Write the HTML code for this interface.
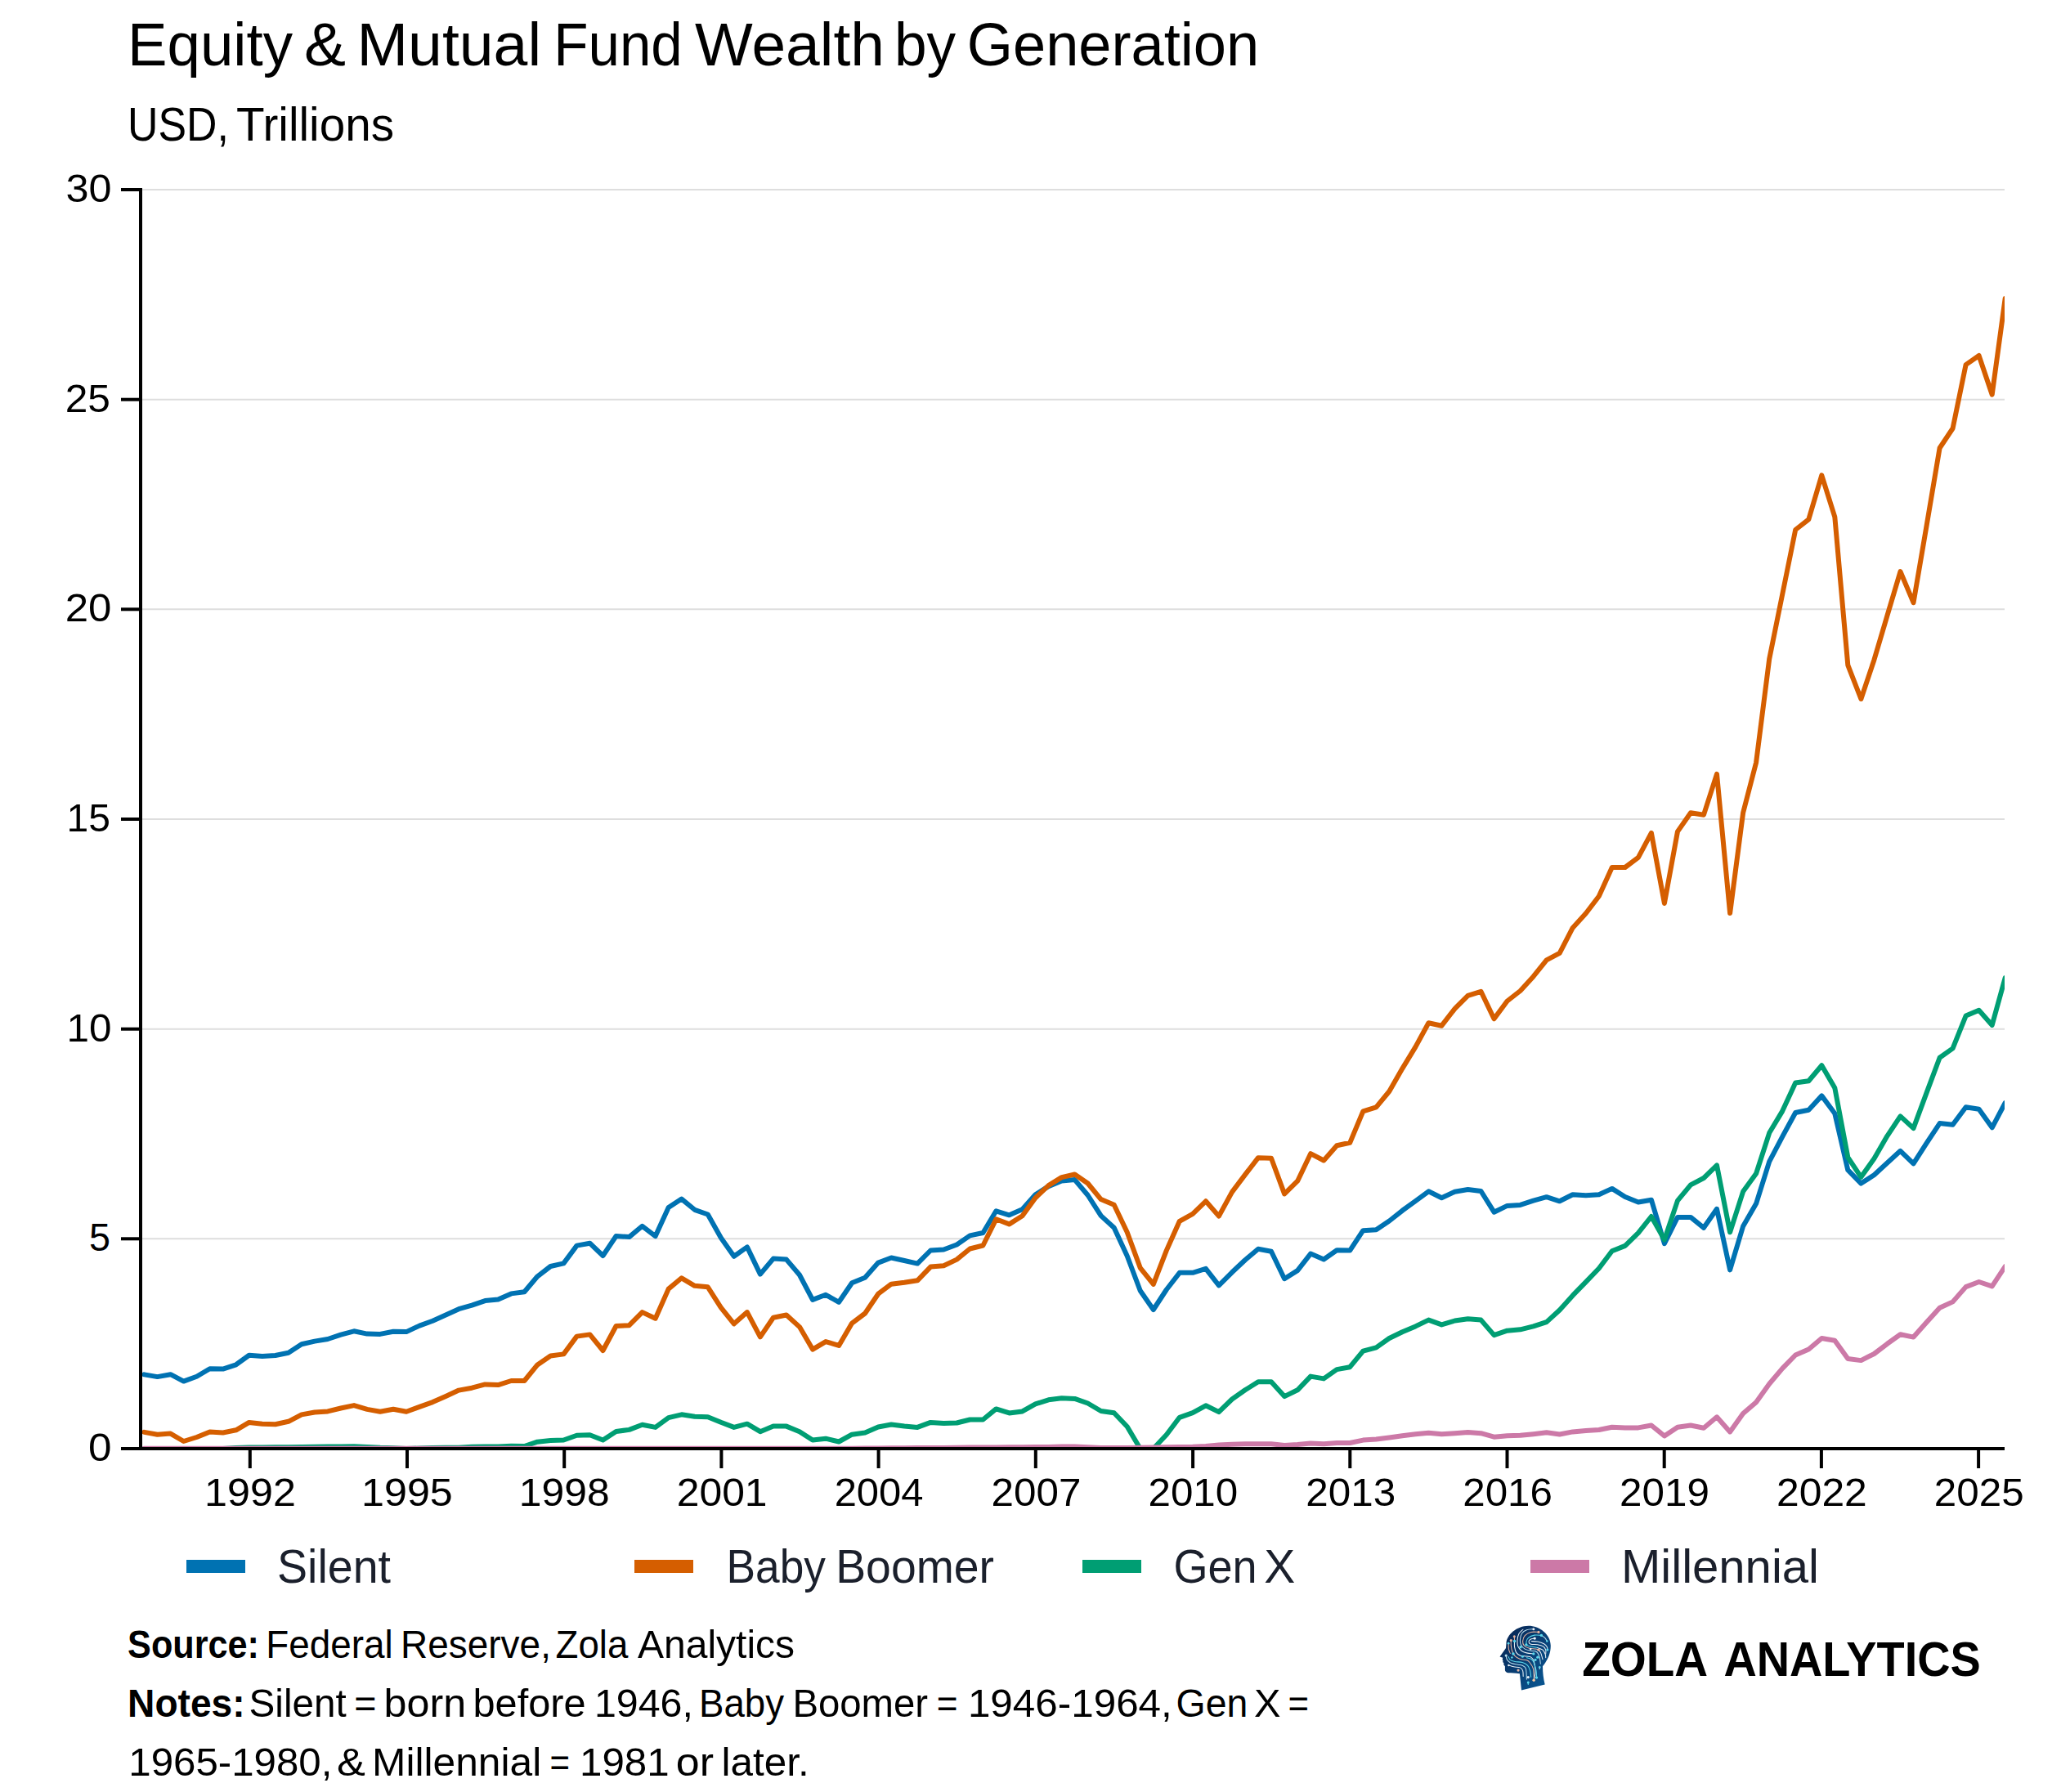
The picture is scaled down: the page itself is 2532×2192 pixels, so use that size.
<!DOCTYPE html>
<html><head><meta charset="utf-8"><style>
html,body{margin:0;padding:0;background:#fff;}
body{width:2532px;height:2192px;overflow:hidden;font-family:"Liberation Sans",sans-serif;}
svg{display:block;}
</style></head><body>
<svg width="2532" height="2192" viewBox="0 0 2532 2192" font-family="Liberation Sans">
<defs><clipPath id="pc"><rect x="174" y="150" width="2278" height="1622"/></clipPath><linearGradient id="hg" x1="0" y1="0" x2="1" y2="1"><stop offset="0" stop-color="#07204d"/><stop offset="1" stop-color="#0a5c99"/></linearGradient></defs>
<line x1="174" x2="2452" y1="1515.3" y2="1515.3" stroke="#dedede" stroke-width="2"/>
<line x1="174" x2="2452" y1="1258.7" y2="1258.7" stroke="#dedede" stroke-width="2"/>
<line x1="174" x2="2452" y1="1002.0" y2="1002.0" stroke="#dedede" stroke-width="2"/>
<line x1="174" x2="2452" y1="745.3" y2="745.3" stroke="#dedede" stroke-width="2"/>
<line x1="174" x2="2452" y1="488.7" y2="488.7" stroke="#dedede" stroke-width="2"/>
<line x1="174" x2="2452" y1="232.0" y2="232.0" stroke="#dedede" stroke-width="2"/>
<g clip-path="url(#pc)" fill="none" stroke-width="6" stroke-linejoin="round" stroke-linecap="round">
<path d="M176.5,1681.4 L192.5,1684.1 L208.6,1681.2 L224.6,1689.6 L240.6,1683.8 L256.6,1674.2 L272.7,1674.6 L288.7,1669.3 L304.7,1657.7 L320.8,1659.1 L336.8,1658.0 L352.8,1654.8 L368.9,1644.2 L384.9,1640.6 L400.9,1638.0 L416.9,1632.6 L433.0,1628.3 L449.0,1631.6 L465.0,1631.9 L481.1,1628.8 L497.1,1629.1 L513.1,1621.6 L529.2,1615.7 L545.2,1608.5 L561.2,1601.2 L577.2,1596.6 L593.3,1591.1 L609.3,1589.6 L625.3,1582.4 L641.4,1580.2 L657.4,1561.3 L673.4,1549.0 L689.4,1545.4 L705.5,1523.6 L721.5,1520.7 L737.5,1536.0 L753.6,1512.0 L769.6,1513.1 L785.6,1499.8 L801.7,1512.1 L817.7,1477.0 L833.7,1466.6 L849.7,1479.8 L865.8,1485.5 L881.8,1514.0 L897.8,1536.8 L913.9,1525.4 L929.9,1558.6 L945.9,1539.6 L961.9,1540.6 L978.0,1559.5 L994.0,1589.9 L1010.0,1583.8 L1026.1,1592.8 L1042.1,1569.3 L1058.1,1562.7 L1074.2,1544.6 L1090.2,1538.5 L1106.2,1542.0 L1122.2,1545.6 L1138.3,1529.5 L1154.3,1528.5 L1170.3,1522.5 L1186.4,1511.4 L1202.4,1508.0 L1218.4,1481.3 L1234.5,1486.3 L1250.5,1479.3 L1266.5,1461.2 L1282.5,1451.1 L1298.6,1444.5 L1314.6,1443.1 L1330.6,1462.0 L1346.7,1487.1 L1362.7,1501.7 L1378.7,1536.3 L1394.7,1578.7 L1410.8,1602.0 L1426.8,1577.5 L1442.8,1556.8 L1458.9,1556.8 L1474.9,1551.9 L1490.9,1572.4 L1507.0,1556.3 L1523.0,1541.2 L1539.0,1527.8 L1555.0,1530.7 L1571.1,1564.2 L1587.1,1554.1 L1603.1,1533.6 L1619.2,1540.5 L1635.2,1529.2 L1651.2,1529.6 L1667.3,1505.2 L1683.3,1504.2 L1699.3,1493.5 L1715.3,1480.8 L1731.4,1469.1 L1747.4,1457.3 L1763.4,1465.2 L1779.5,1457.7 L1795.5,1455.0 L1811.5,1457.0 L1827.5,1482.7 L1843.6,1474.9 L1859.6,1473.9 L1875.6,1468.7 L1891.7,1464.2 L1907.7,1469.3 L1923.7,1461.3 L1939.8,1462.2 L1955.8,1461.3 L1971.8,1453.9 L1987.8,1464.0 L2003.9,1470.5 L2019.9,1467.7 L2035.9,1521.1 L2052.0,1488.9 L2068.0,1488.9 L2084.0,1501.8 L2100.0,1478.8 L2116.1,1553.4 L2132.1,1500.0 L2148.1,1472.3 L2164.2,1420.8 L2180.2,1390.4 L2196.2,1361.0 L2212.3,1357.7 L2228.3,1340.4 L2244.3,1362.0 L2260.3,1431.2 L2276.4,1447.6 L2292.4,1437.2 L2308.4,1422.5 L2324.5,1407.8 L2340.5,1423.4 L2356.5,1398.3 L2372.6,1374.1 L2388.6,1375.8 L2404.6,1354.2 L2420.6,1356.8 L2436.7,1379.3 L2452.7,1349.0" stroke="#0072B2"/>
<path d="M176.5,1751.9 L192.5,1754.8 L208.6,1753.6 L224.6,1763.0 L240.6,1758.0 L256.6,1751.4 L272.7,1752.5 L288.7,1749.3 L304.7,1739.9 L320.8,1741.7 L336.8,1742.3 L352.8,1738.8 L368.9,1730.4 L384.9,1727.5 L400.9,1726.4 L416.9,1722.5 L433.0,1719.1 L449.0,1723.9 L465.0,1726.8 L481.1,1723.8 L497.1,1726.7 L513.1,1720.9 L529.2,1715.1 L545.2,1707.9 L561.2,1700.6 L577.2,1697.7 L593.3,1693.4 L609.3,1694.1 L625.3,1689.0 L641.4,1689.0 L657.4,1669.4 L673.4,1658.5 L689.4,1656.4 L705.5,1634.6 L721.5,1632.4 L737.5,1652.0 L753.6,1622.0 L769.6,1621.2 L785.6,1605.1 L801.7,1612.7 L817.7,1576.6 L833.7,1563.3 L849.7,1572.8 L865.8,1574.3 L881.8,1599.4 L897.8,1619.3 L913.9,1605.1 L929.9,1635.4 L945.9,1611.7 L961.9,1608.5 L978.0,1623.1 L994.0,1650.6 L1010.0,1641.1 L1026.1,1645.9 L1042.1,1618.6 L1058.1,1606.5 L1074.2,1582.7 L1090.2,1570.7 L1106.2,1568.7 L1122.2,1566.3 L1138.3,1549.6 L1154.3,1548.2 L1170.3,1540.6 L1186.4,1527.5 L1202.4,1523.5 L1218.4,1491.3 L1234.5,1497.4 L1250.5,1487.3 L1266.5,1465.2 L1282.5,1450.1 L1298.6,1440.1 L1314.6,1436.5 L1330.6,1447.5 L1346.7,1467.1 L1362.7,1473.8 L1378.7,1507.2 L1394.7,1550.8 L1410.8,1570.8 L1426.8,1529.6 L1442.8,1493.8 L1458.9,1484.9 L1474.9,1469.3 L1490.9,1487.6 L1507.0,1458.1 L1523.0,1436.9 L1539.0,1416.2 L1555.0,1416.8 L1571.1,1460.4 L1587.1,1444.7 L1603.1,1411.2 L1619.2,1419.5 L1635.2,1401.2 L1651.2,1397.8 L1667.3,1359.3 L1683.3,1354.3 L1699.3,1335.0 L1715.3,1307.1 L1731.4,1280.6 L1747.4,1251.3 L1763.4,1254.7 L1779.5,1233.8 L1795.5,1217.9 L1811.5,1212.8 L1827.5,1246.3 L1843.6,1224.5 L1859.6,1212.0 L1875.6,1194.4 L1891.7,1174.3 L1907.7,1165.8 L1923.7,1134.9 L1939.8,1117.3 L1955.8,1096.2 L1971.8,1061.0 L1987.8,1061.0 L2003.9,1048.8 L2019.9,1018.9 L2035.9,1105.0 L2052.0,1017.1 L2068.0,994.3 L2084.0,996.7 L2100.0,946.8 L2116.1,1117.0 L2132.1,994.3 L2148.1,932.7 L2164.2,806.1 L2180.2,727.0 L2196.2,648.0 L2212.3,635.4 L2228.3,581.4 L2244.3,632.3 L2260.3,813.6 L2276.4,855.0 L2292.4,807.2 L2308.4,753.2 L2324.5,699.1 L2340.5,737.2 L2356.5,643.4 L2372.6,548.0 L2388.6,524.0 L2404.6,446.1 L2420.6,435.0 L2436.7,482.7 L2452.7,365.0" stroke="#D55E00"/>
<path d="M176.5,1772.0 L192.5,1772.0 L208.6,1772.0 L224.6,1772.0 L240.6,1772.0 L256.6,1772.0 L272.7,1772.0 L288.7,1771.0 L304.7,1770.5 L320.8,1770.5 L336.8,1770.3 L352.8,1770.3 L368.9,1770.0 L384.9,1769.8 L400.9,1769.6 L416.9,1769.5 L433.0,1769.3 L449.0,1770.0 L465.0,1770.8 L481.1,1771.2 L497.1,1772.0 L513.1,1771.5 L529.2,1771.0 L545.2,1770.8 L561.2,1770.7 L577.2,1769.8 L593.3,1769.5 L609.3,1769.5 L625.3,1768.8 L641.4,1769.0 L657.4,1763.7 L673.4,1762.0 L689.4,1761.5 L705.5,1755.7 L721.5,1755.3 L737.5,1761.5 L753.6,1751.0 L769.6,1748.9 L785.6,1742.7 L801.7,1745.9 L817.7,1734.1 L833.7,1730.3 L849.7,1732.8 L865.8,1733.2 L881.8,1739.8 L897.8,1745.9 L913.9,1741.7 L929.9,1751.2 L945.9,1744.6 L961.9,1744.6 L978.0,1751.2 L994.0,1761.6 L1010.0,1759.7 L1026.1,1763.5 L1042.1,1754.7 L1058.1,1752.5 L1074.2,1745.5 L1090.2,1742.5 L1106.2,1744.5 L1122.2,1745.9 L1138.3,1739.9 L1154.3,1741.1 L1170.3,1740.5 L1186.4,1736.5 L1202.4,1736.5 L1218.4,1723.4 L1234.5,1728.4 L1250.5,1726.4 L1266.5,1717.4 L1282.5,1712.3 L1298.6,1710.3 L1314.6,1710.9 L1330.6,1716.5 L1346.7,1726.0 L1362.7,1728.2 L1378.7,1745.0 L1394.7,1772.0 L1410.8,1772.0 L1426.8,1755.0 L1442.8,1733.8 L1458.9,1728.2 L1474.9,1719.3 L1490.9,1727.1 L1507.0,1711.5 L1523.0,1700.3 L1539.0,1690.3 L1555.0,1690.3 L1571.1,1708.1 L1587.1,1700.3 L1603.1,1683.6 L1619.2,1686.4 L1635.2,1675.1 L1651.2,1672.2 L1667.3,1652.7 L1683.3,1648.4 L1699.3,1637.0 L1715.3,1629.2 L1731.4,1622.4 L1747.4,1614.6 L1763.4,1620.4 L1779.5,1615.5 L1795.5,1613.2 L1811.5,1614.6 L1827.5,1633.1 L1843.6,1627.7 L1859.6,1626.3 L1875.6,1622.4 L1891.7,1617.1 L1907.7,1602.5 L1923.7,1584.7 L1939.8,1568.1 L1955.8,1551.5 L1971.8,1530.3 L1987.8,1523.9 L2003.9,1508.2 L2019.9,1488.0 L2035.9,1516.5 L2052.0,1468.6 L2068.0,1449.3 L2084.0,1441.0 L2100.0,1425.4 L2116.1,1507.3 L2132.1,1457.6 L2148.1,1435.5 L2164.2,1385.8 L2180.2,1359.1 L2196.2,1324.5 L2212.3,1322.2 L2228.3,1303.2 L2244.3,1330.8 L2260.3,1415.6 L2276.4,1439.8 L2292.4,1417.3 L2308.4,1389.6 L2324.5,1365.4 L2340.5,1380.1 L2356.5,1336.9 L2372.6,1293.7 L2388.6,1282.4 L2404.6,1242.6 L2420.6,1235.7 L2436.7,1253.9 L2452.7,1196.0" stroke="#009E73"/>
<path d="M176.5,1771.8 L192.5,1771.8 L208.6,1771.8 L224.6,1771.8 L240.6,1771.8 L256.6,1771.8 L272.7,1771.8 L288.7,1771.8 L304.7,1771.8 L320.8,1771.8 L336.8,1771.8 L352.8,1771.8 L368.9,1771.8 L384.9,1771.8 L400.9,1771.8 L416.9,1771.8 L433.0,1771.8 L449.0,1771.8 L465.0,1771.8 L481.1,1771.8 L497.1,1771.8 L513.1,1771.8 L529.2,1771.8 L545.2,1771.8 L561.2,1771.8 L577.2,1771.8 L593.3,1771.8 L609.3,1771.8 L625.3,1771.8 L641.4,1771.8 L657.4,1771.8 L673.4,1771.8 L689.4,1771.8 L705.5,1771.8 L721.5,1771.8 L737.5,1771.8 L753.6,1771.8 L769.6,1771.8 L785.6,1771.8 L801.7,1771.8 L817.7,1771.8 L833.7,1771.8 L849.7,1771.8 L865.8,1771.8 L881.8,1771.8 L897.8,1771.8 L913.9,1771.8 L929.9,1771.8 L945.9,1771.8 L961.9,1771.8 L978.0,1771.8 L994.0,1771.8 L1010.0,1771.8 L1026.1,1771.8 L1042.1,1771.8 L1058.1,1771.5 L1074.2,1771.4 L1090.2,1771.3 L1106.2,1771.2 L1122.2,1771.1 L1138.3,1771.0 L1154.3,1770.9 L1170.3,1770.8 L1186.4,1770.6 L1202.4,1770.5 L1218.4,1770.4 L1234.5,1770.3 L1250.5,1770.2 L1266.5,1770.1 L1282.5,1770.0 L1298.6,1769.6 L1314.6,1769.6 L1330.6,1770.3 L1346.7,1771.0 L1362.7,1771.0 L1378.7,1771.0 L1394.7,1770.8 L1410.8,1770.5 L1426.8,1770.3 L1442.8,1770.0 L1458.9,1769.8 L1474.9,1769.0 L1490.9,1767.5 L1507.0,1766.8 L1523.0,1766.2 L1539.0,1766.2 L1555.0,1766.2 L1571.1,1768.0 L1587.1,1767.0 L1603.1,1765.5 L1619.2,1766.3 L1635.2,1765.0 L1651.2,1765.0 L1667.3,1761.6 L1683.3,1760.5 L1699.3,1758.5 L1715.3,1756.2 L1731.4,1754.2 L1747.4,1752.7 L1763.4,1754.2 L1779.5,1753.2 L1795.5,1751.9 L1811.5,1753.2 L1827.5,1757.7 L1843.6,1756.2 L1859.6,1755.8 L1875.6,1754.2 L1891.7,1752.3 L1907.7,1754.5 L1923.7,1751.4 L1939.8,1750.0 L1955.8,1749.0 L1971.8,1745.7 L1987.8,1746.4 L2003.9,1746.4 L2019.9,1743.5 L2035.9,1756.5 L2052.0,1745.7 L2068.0,1743.5 L2084.0,1746.7 L2100.0,1733.3 L2116.1,1751.4 L2132.1,1729.0 L2148.1,1715.2 L2164.2,1692.8 L2180.2,1673.9 L2196.2,1657.5 L2212.3,1650.5 L2228.3,1637.0 L2244.3,1639.7 L2260.3,1662.0 L2276.4,1664.1 L2292.4,1656.0 L2308.4,1643.8 L2324.5,1632.3 L2340.5,1635.6 L2356.5,1617.4 L2372.6,1599.8 L2388.6,1592.4 L2404.6,1574.1 L2420.6,1568.0 L2436.7,1573.4 L2452.7,1549.1" stroke="#CC79A7"/>
</g>
<rect x="170" y="230" width="4" height="1544" fill="#000"/>
<rect x="148" y="1770" width="2304" height="4" fill="#000"/>
<rect x="148" y="1770.0" width="26" height="4" fill="#000"/>
<rect x="148" y="1513.3" width="26" height="4" fill="#000"/>
<rect x="148" y="1256.7" width="26" height="4" fill="#000"/>
<rect x="148" y="1000.0" width="26" height="4" fill="#000"/>
<rect x="148" y="743.3" width="26" height="4" fill="#000"/>
<rect x="148" y="486.7" width="26" height="4" fill="#000"/>
<rect x="148" y="230.0" width="26" height="4" fill="#000"/>
<rect x="303.8" y="1774" width="4" height="22" fill="#000"/>
<rect x="496.0" y="1774" width="4" height="22" fill="#000"/>
<rect x="688.2" y="1774" width="4" height="22" fill="#000"/>
<rect x="880.4" y="1774" width="4" height="22" fill="#000"/>
<rect x="1072.6" y="1774" width="4" height="22" fill="#000"/>
<rect x="1264.8" y="1774" width="4" height="22" fill="#000"/>
<rect x="1457.1" y="1774" width="4" height="22" fill="#000"/>
<rect x="1649.3" y="1774" width="4" height="22" fill="#000"/>
<rect x="1841.5" y="1774" width="4" height="22" fill="#000"/>
<rect x="2033.7" y="1774" width="4" height="22" fill="#000"/>
<rect x="2225.9" y="1774" width="4" height="22" fill="#000"/>
<rect x="2418.1" y="1774" width="4" height="22" fill="#000"/>
<rect x="228" y="1908" width="72" height="16" fill="#0072B2"/>
<rect x="776" y="1908" width="72" height="16" fill="#D55E00"/>
<rect x="1324" y="1908" width="72" height="16" fill="#009E73"/>
<rect x="1872" y="1908" width="72" height="16" fill="#CC79A7"/>
<g transform="translate(1825,1980)">
<path d="M44.5,8.7 C58,8.7 71.8,19 71.8,33 C71.8,44 67,52 62,58.3 C62,66 63,74 64.7,80.5 L36,87.4 L33.9,67.3 C28,66.2 24,66.5 19.6,66.2 C16.5,65.5 15.9,63.5 15.9,62.5 L15.9,58.3 L14.3,56.2 L14.5,54.5 L13.2,53 L13.5,51 L12.7,50.3 L13.2,47.7 L9.5,46.6 L17,36 L17.5,29.7 C18,20 30,8.7 44.5,8.7 Z" fill="url(#hg)"/>
<g fill="none" stroke-width="1.05" stroke-linecap="round">
<path d="M37.89,13.25 C37.05,14.13 34.00,16.34 32.86,18.55 C31.71,20.76 31.18,23.94 31.00,26.50 C30.82,29.06 30.96,31.80 31.80,33.92 C32.64,36.04 34.27,37.89 36.04,39.22 C37.80,40.54 39.92,41.25 42.40,41.87 C44.87,42.48 49.46,42.75 50.87,42.93" stroke="#e8f0f6"/>
<path d="M50.87,12.72 C49.46,12.90 44.78,12.90 42.40,13.78 C40.01,14.66 37.89,16.07 36.57,18.02 C35.24,19.96 34.62,23.05 34.45,25.44 C34.27,27.82 34.53,30.38 35.51,32.33 C36.48,34.27 38.24,35.95 40.28,37.10 C42.31,38.24 45.57,38.77 47.69,39.22 C49.81,39.66 51.58,39.22 52.99,39.75 C54.41,40.28 55.29,41.07 56.17,42.40 C57.06,43.72 57.76,45.57 58.29,47.69 C58.82,49.81 59.18,53.88 59.35,55.11" stroke="#b8dcec"/>
<path d="M56.97,16.43 C55.42,16.43 50.48,15.72 47.69,16.43 C44.91,17.13 41.95,18.81 40.28,20.67 C38.60,22.52 37.80,25.53 37.63,27.56 C37.45,29.59 37.98,31.44 39.22,32.86 C40.45,34.27 42.75,35.33 45.05,36.04 C47.34,36.74 50.96,36.74 52.99,37.10 C55.03,37.45 56.53,37.98 57.23,38.16" stroke="#e8b4a0"/>
<path d="M57.23,38.16 C57.68,38.86 59.09,40.45 59.88,42.40 C60.68,44.34 61.65,48.58 62.00,49.81" stroke="#e8f0f6"/>
<path d="M60.41,20.40 C59.00,20.36 54.58,19.65 51.93,20.14 C49.28,20.62 46.19,21.90 44.52,23.32 C42.84,24.73 42.04,27.03 41.87,28.62 C41.69,30.21 42.04,31.88 43.46,32.86 C44.87,33.83 48.31,34.00 50.34,34.45 C52.38,34.89 54.76,35.33 55.64,35.51" stroke="#5cd8ec"/>
<path d="M55.64,35.51 C56.70,35.95 60.41,36.83 62.00,38.16 C63.59,39.48 64.56,41.87 65.18,43.46 C65.80,45.05 65.62,46.99 65.71,47.69" stroke="#e8f0f6"/>
<path d="M52.20,24.11 C51.27,24.33 47.83,24.69 46.63,25.44 C45.44,26.19 44.87,27.65 45.05,28.62 C45.22,29.59 45.93,30.74 47.69,31.27 C49.46,31.80 53.17,31.35 55.64,31.80 C58.12,32.24 60.85,32.86 62.53,33.92 C64.21,34.98 65.18,36.65 65.71,38.16 C66.24,39.66 65.71,42.13 65.71,42.93" stroke="#e8f0f6"/>
<path d="M48.22,27.56 C49.46,27.65 53.08,27.56 55.64,28.09 C58.21,28.62 61.65,29.68 63.59,30.74 C65.54,31.80 66.60,33.25 67.30,34.45 C68.01,35.64 67.74,37.32 67.83,37.89" stroke="#e8f0f6"/>
<path d="M60.41,20.40 C61.12,20.89 63.50,22.13 64.65,23.32 C65.80,24.51 66.86,26.85 67.30,27.56" stroke="#b8dcec"/>
<path d="M27.29,21.73 C27.34,22.70 27.51,26.59 27.56,27.56" stroke="#e8b4a0"/>
<path d="M27.56,27.56 C27.56,28.71 27.20,32.15 27.56,34.45 C27.91,36.74 28.53,39.57 29.68,41.34 C30.82,43.10 32.33,44.25 34.45,45.05 C36.57,45.84 40.19,45.75 42.40,46.10 C44.60,46.46 46.28,46.37 47.69,47.16 C49.11,47.96 50.08,49.02 50.87,50.87 C51.67,52.73 52.11,55.73 52.46,58.29 C52.82,60.85 53.17,63.50 52.99,66.24 C52.82,68.98 51.67,73.31 51.40,74.72" stroke="#e8f0f6"/>
<path d="M23.32,26.50 C23.32,27.56 23.05,30.56 23.32,32.86 C23.58,35.15 24.11,38.16 24.91,40.28 C25.70,42.40 26.59,44.07 28.09,45.57 C29.59,47.08 31.53,48.40 33.92,49.28 C36.30,50.17 40.36,50.17 42.40,50.87 C44.43,51.58 44.78,51.85 46.10,53.52 C47.43,55.20 49.46,57.50 50.34,60.94 C51.23,64.39 51.23,71.98 51.40,74.19" stroke="#e8b4a0"/>
<path d="M20.14,30.21 C20.18,31.35 20.05,35.06 20.40,37.10 C20.76,39.13 21.95,41.51 22.26,42.40" stroke="#e8b4a0"/>
<path d="M17.22,45.05 C17.44,45.93 17.44,48.75 18.55,50.34 C19.65,51.93 21.64,53.61 23.85,54.58 C26.06,55.56 29.59,55.73 31.80,56.17 C34.00,56.62 35.51,56.44 37.10,57.23 C38.69,58.03 40.45,58.12 41.34,60.94 C42.22,63.77 42.22,71.98 42.40,74.19" stroke="#b8dcec"/>
<path d="M20.14,46.63 C20.49,47.25 20.93,49.37 22.26,50.34 C23.58,51.32 25.61,51.93 28.09,52.46 C30.56,52.99 34.53,52.73 37.10,53.52 C39.66,54.32 41.87,55.56 43.46,57.23 C45.05,58.91 45.93,61.21 46.63,63.59 C47.34,65.98 47.52,70.22 47.69,71.54" stroke="#5cd8ec"/>
<path d="M20.40,56.97 C21.42,57.28 24.16,58.34 26.50,58.82 C28.84,59.31 32.59,59.09 34.45,59.88 C36.30,60.68 37.01,61.83 37.63,63.59 C38.24,65.36 38.07,69.33 38.16,70.48" stroke="#e8f0f6"/>
<path d="M42.40,47.69 C43.28,47.96 46.28,48.40 47.69,49.28 C49.11,50.17 49.81,50.61 50.87,52.99 C51.93,55.38 53.44,60.41 54.05,63.59 C54.67,66.77 54.50,70.66 54.58,72.07" stroke="#5cd8ec"/>
<path d="M58.29,59.35 C58.29,59.71 58.29,61.12 58.29,61.47" stroke="#e8f0f6"/>
<path d="M44.25,77.90 C44.25,78.34 44.25,80.11 44.25,80.55" stroke="#5cd8ec"/>
</g><g>
<circle cx="50.87" cy="12.72" r="1.50" fill="#e8f0f6"/>
<circle cx="56.97" cy="16.43" r="1.60" fill="#e8b4a0"/>
<circle cx="60.41" cy="20.40" r="1.70" fill="#5cd8ec"/>
<circle cx="52.20" cy="24.11" r="1.70" fill="#e8f0f6"/>
<circle cx="67.30" cy="27.56" r="1.20" fill="#5cd8ec"/>
<circle cx="67.83" cy="37.89" r="1.50" fill="#5cd8ec"/>
<circle cx="27.29" cy="21.73" r="1.50" fill="#e8b4a0"/>
<circle cx="23.32" cy="26.50" r="1.60" fill="#e8b4a0"/>
<circle cx="27.56" cy="27.56" r="1.70" fill="#5cd8ec"/>
<circle cx="20.14" cy="30.21" r="1.40" fill="#5cd8ec"/>
<circle cx="41.87" cy="31.80" r="1.60" fill="#5cd8ec"/>
<circle cx="34.98" cy="34.71" r="1.70" fill="#5cd8ec"/>
<circle cx="47.16" cy="37.10" r="1.30" fill="#e8f0f6"/>
<circle cx="56.97" cy="38.16" r="1.60" fill="#e8b4a0"/>
<circle cx="25.97" cy="42.93" r="1.70" fill="#5cd8ec"/>
<circle cx="50.87" cy="42.93" r="1.60" fill="#5cd8ec"/>
<circle cx="17.22" cy="45.05" r="1.60" fill="#b8dcec"/>
<circle cx="24.38" cy="47.43" r="1.20" fill="#5cd8ec"/>
<circle cx="37.36" cy="46.37" r="1.50" fill="#5cd8ec"/>
<circle cx="55.91" cy="47.16" r="1.70" fill="#5cd8ec"/>
<circle cx="52.99" cy="50.34" r="1.60" fill="#5cd8ec"/>
<circle cx="20.40" cy="56.97" r="1.20" fill="#e8f0f6"/>
<circle cx="58.29" cy="59.35" r="1.30" fill="#5cd8ec"/>
<circle cx="32.06" cy="63.06" r="1.60" fill="#e8b4a0"/>
<circle cx="44.25" cy="71.54" r="1.60" fill="#e8f0f6"/>
<circle cx="54.58" cy="72.07" r="1.60" fill="#5cd8ec"/>
<circle cx="51.14" cy="75.25" r="1.70" fill="#f5c8a0"/>
<circle cx="44.25" cy="77.90" r="1.50" fill="#5cd8ec"/>
</g></g>
<text x="156.00" y="79.70" font-size="74" fill="#000" textLength="202.00" lengthAdjust="spacingAndGlyphs">Equity</text>
<text x="372.00" y="79.70" font-size="74" fill="#000" textLength="51.00" lengthAdjust="spacingAndGlyphs">&amp;</text>
<text x="436.50" y="79.70" font-size="74" fill="#000" textLength="225.60" lengthAdjust="spacingAndGlyphs">Mutual</text>
<text x="677.20" y="79.70" font-size="74" fill="#000" textLength="157.60" lengthAdjust="spacingAndGlyphs">Fund</text>
<text x="850.10" y="79.70" font-size="74" fill="#000" textLength="231.80" lengthAdjust="spacingAndGlyphs">Wealth</text>
<text x="1094.00" y="79.70" font-size="74" fill="#000" textLength="75.20" lengthAdjust="spacingAndGlyphs">by</text>
<text x="1182.80" y="79.70" font-size="74" fill="#000" textLength="357.40" lengthAdjust="spacingAndGlyphs">Generation</text>
<text x="156.10" y="171.50" font-size="57.5" fill="#000" textLength="123.80" lengthAdjust="spacingAndGlyphs">USD,</text>
<text x="289.00" y="171.50" font-size="57.5" fill="#000" textLength="193.00" lengthAdjust="spacingAndGlyphs">Trillions</text>
<text x="339.00" y="1936.00" font-size="57" fill="#1b202c" textLength="139.00" lengthAdjust="spacingAndGlyphs">Silent</text>
<text x="888.50" y="1936.00" font-size="57" fill="#1b202c" textLength="121.40" lengthAdjust="spacingAndGlyphs">Baby</text>
<text x="1022.20" y="1936.00" font-size="57" fill="#1b202c" textLength="193.80" lengthAdjust="spacingAndGlyphs">Boomer</text>
<text x="1435.40" y="1936.00" font-size="57" fill="#1b202c" textLength="102.20" lengthAdjust="spacingAndGlyphs">Gen</text>
<text x="1546.20" y="1936.00" font-size="57" fill="#1b202c" textLength="38.00" lengthAdjust="spacingAndGlyphs">X</text>
<text x="1983.00" y="1936.00" font-size="57" fill="#1b202c" textLength="242.00" lengthAdjust="spacingAndGlyphs">Millennial</text>
<text x="156.10" y="2028.00" font-size="49" font-weight="bold" fill="#000" textLength="160.90" lengthAdjust="spacingAndGlyphs">Source:</text>
<text x="325.20" y="2028.00" font-size="49" fill="#000" textLength="155.40" lengthAdjust="spacingAndGlyphs">Federal</text>
<text x="490.10" y="2028.00" font-size="49" fill="#000" textLength="183.80" lengthAdjust="spacingAndGlyphs">Reserve,</text>
<text x="679.60" y="2028.00" font-size="49" fill="#000" textLength="88.80" lengthAdjust="spacingAndGlyphs">Zola</text>
<text x="780.00" y="2028.00" font-size="49" fill="#000" textLength="192.10" lengthAdjust="spacingAndGlyphs">Analytics</text>
<text x="156.10" y="2100.00" font-size="49" font-weight="bold" fill="#000" textLength="143.50" lengthAdjust="spacingAndGlyphs">Notes:</text>
<text x="304.60" y="2100.00" font-size="49" fill="#000" textLength="119.10" lengthAdjust="spacingAndGlyphs">Silent</text>
<text x="433.20" y="2100.00" font-size="49" fill="#000" textLength="27.20" lengthAdjust="spacingAndGlyphs">=</text>
<text x="469.60" y="2100.00" font-size="49" fill="#000" textLength="100.60" lengthAdjust="spacingAndGlyphs">born</text>
<text x="578.50" y="2100.00" font-size="49" fill="#000" textLength="138.10" lengthAdjust="spacingAndGlyphs">before</text>
<text x="726.90" y="2100.00" font-size="49" fill="#000" textLength="121.00" lengthAdjust="spacingAndGlyphs">1946,</text>
<text x="855.00" y="2100.00" font-size="49" fill="#000" textLength="104.10" lengthAdjust="spacingAndGlyphs">Baby</text>
<text x="969.40" y="2100.00" font-size="49" fill="#000" textLength="165.70" lengthAdjust="spacingAndGlyphs">Boomer</text>
<text x="1145.80" y="2100.00" font-size="49" fill="#000" textLength="25.80" lengthAdjust="spacingAndGlyphs">=</text>
<text x="1183.90" y="2100.00" font-size="49" fill="#000" textLength="249.90" lengthAdjust="spacingAndGlyphs">1946-1964,</text>
<text x="1438.60" y="2100.00" font-size="49" fill="#000" textLength="87.70" lengthAdjust="spacingAndGlyphs">Gen</text>
<text x="1534.00" y="2100.00" font-size="49" fill="#000" textLength="32.50" lengthAdjust="spacingAndGlyphs">X</text>
<text x="1575.50" y="2100.00" font-size="49" fill="#000" textLength="25.50" lengthAdjust="spacingAndGlyphs">=</text>
<text x="157.30" y="2172.00" font-size="49" fill="#000" textLength="249.10" lengthAdjust="spacingAndGlyphs">1965-1980,</text>
<text x="412.00" y="2172.00" font-size="49" fill="#000" textLength="34.90" lengthAdjust="spacingAndGlyphs">&amp;</text>
<text x="455.10" y="2172.00" font-size="49" fill="#000" textLength="207.10" lengthAdjust="spacingAndGlyphs">Millennial</text>
<text x="672.50" y="2172.00" font-size="49" fill="#000" textLength="24.50" lengthAdjust="spacingAndGlyphs">=</text>
<text x="709.00" y="2172.00" font-size="49" fill="#000" textLength="109.70" lengthAdjust="spacingAndGlyphs">1981</text>
<text x="826.80" y="2172.00" font-size="49" fill="#000" textLength="46.20" lengthAdjust="spacingAndGlyphs">or</text>
<text x="882.60" y="2172.00" font-size="49" fill="#000" textLength="107.20" lengthAdjust="spacingAndGlyphs">later.</text>
<text x="1935.20" y="2049.70" font-size="60" font-weight="bold" fill="#000" textLength="153.90" lengthAdjust="spacingAndGlyphs">ZOLA</text>
<text x="2108.40" y="2049.70" font-size="60" font-weight="bold" fill="#000" textLength="314.30" lengthAdjust="spacingAndGlyphs">ANALYTICS</text>
<text x="250.10" y="1842.00" font-size="49" fill="#000" textLength="111.80" lengthAdjust="spacingAndGlyphs">1992</text>
<text x="441.99" y="1842.00" font-size="49" fill="#000" textLength="111.80" lengthAdjust="spacingAndGlyphs">1995</text>
<text x="634.88" y="1842.00" font-size="49" fill="#000" textLength="110.80" lengthAdjust="spacingAndGlyphs">1998</text>
<text x="827.77" y="1842.00" font-size="49" fill="#000" textLength="110.80" lengthAdjust="spacingAndGlyphs">2001</text>
<text x="1020.66" y="1842.00" font-size="49" fill="#000" textLength="108.80" lengthAdjust="spacingAndGlyphs">2004</text>
<text x="1212.55" y="1842.00" font-size="49" fill="#000" textLength="109.80" lengthAdjust="spacingAndGlyphs">2007</text>
<text x="1404.44" y="1842.00" font-size="49" fill="#000" textLength="109.80" lengthAdjust="spacingAndGlyphs">2010</text>
<text x="1597.33" y="1842.00" font-size="49" fill="#000" textLength="109.80" lengthAdjust="spacingAndGlyphs">2013</text>
<text x="1789.22" y="1842.00" font-size="49" fill="#000" textLength="109.80" lengthAdjust="spacingAndGlyphs">2016</text>
<text x="1981.11" y="1842.00" font-size="49" fill="#000" textLength="109.80" lengthAdjust="spacingAndGlyphs">2019</text>
<text x="2173.00" y="1842.00" font-size="49" fill="#000" textLength="110.80" lengthAdjust="spacingAndGlyphs">2022</text>
<text x="2365.89" y="1842.00" font-size="49" fill="#000" textLength="109.80" lengthAdjust="spacingAndGlyphs">2025</text>
<text x="108.00" y="1786.90" font-size="48.5" fill="#000" textLength="28.50" lengthAdjust="spacingAndGlyphs">0</text>
<text x="109.00" y="1530.23" font-size="48.5" fill="#000" textLength="26.00" lengthAdjust="spacingAndGlyphs">5</text>
<text x="81.50" y="1273.57" font-size="48.5" fill="#000" textLength="55.00" lengthAdjust="spacingAndGlyphs">10</text>
<text x="81.50" y="1016.90" font-size="48.5" fill="#000" textLength="53.50" lengthAdjust="spacingAndGlyphs">15</text>
<text x="79.75" y="760.23" font-size="48.5" fill="#000" textLength="56.75" lengthAdjust="spacingAndGlyphs">20</text>
<text x="79.75" y="503.57" font-size="48.5" fill="#000" textLength="55.25" lengthAdjust="spacingAndGlyphs">25</text>
<text x="80.50" y="246.90" font-size="48.5" fill="#000" textLength="56.00" lengthAdjust="spacingAndGlyphs">30</text>
</svg>
</body></html>
